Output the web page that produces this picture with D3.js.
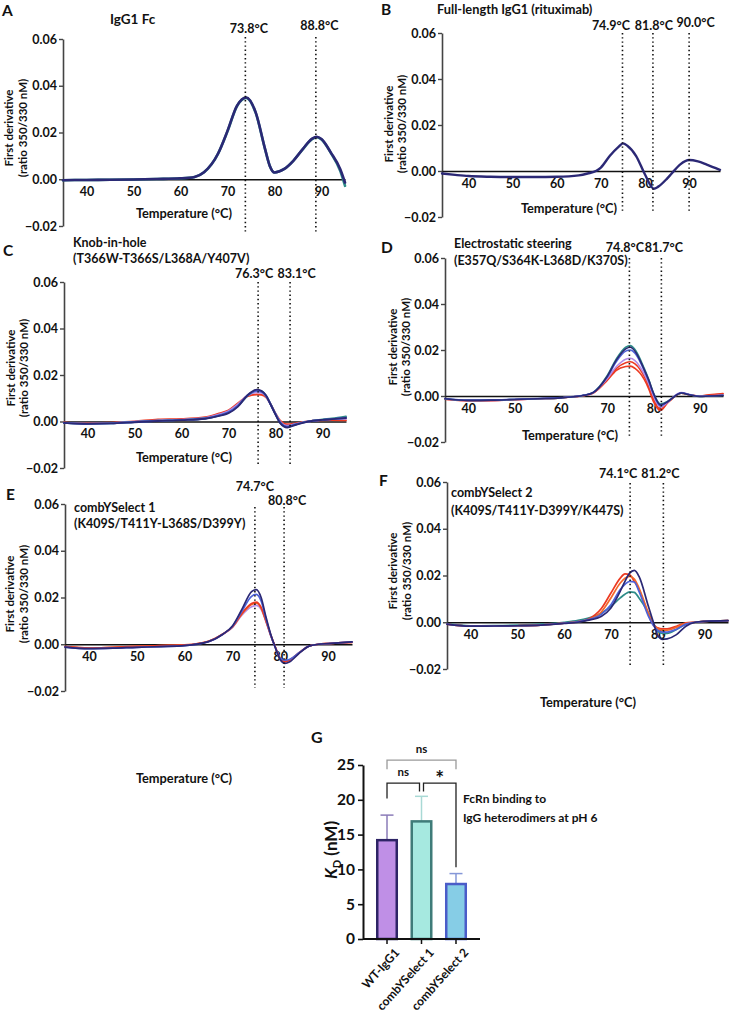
<!DOCTYPE html>
<html><head><meta charset="utf-8">
<script src="https://cdn.jsdelivr.net/npm/d3@7"></script>
<style>
body{margin:0;background:#fff}
text{font-family:Lato,'Open Sans',sans-serif;font-weight:700;fill:#111}
</style>
</head><body><svg id="c" width="730" height="1012"></svg>
<script>
// ---------------- DATA ----------------
const xTicks = [40,50,60,70,80,90];
const yTicks = [-0.02,0,0.02,0.04,0.06];

// Panel A: IgG1 Fc
const tempsA = [35,40,45,50,55,60,63,65,68,70,72,74,76,78,79,80,82,84,86,88,89,90,92,94,95];
const fcA_teal = [-0.0004,-0.0003,-0.0002,-0.0001,0.0001,0.0004,0.001,0.003,0.011,0.0205,0.0312,0.0348,0.0284,0.0128,0.0057,0.0029,0.0043,0.0079,0.0128,0.0172,0.018,0.017,0.0112,0.0035,-0.0028];
const fcA_navy = [-0.0004,-0.0003,-0.0002,-0.0001,0.0001,0.0004,0.001,0.003,0.011,0.0207,0.0314,0.035,0.0286,0.0129,0.0057,0.0029,0.0043,0.0079,0.0129,0.0174,0.0182,0.0172,0.0114,0.0043,-0.0014];
const peaksA = [73.8,88.8];

// Panel B: full-length IgG1 (rituximab)
const tempsB = [34,37,40,45,50,55,60,65,67,69,70,72,74,75,76,78,80,82,83,85,86,88,90,92,94,97];
const ritB_navy = [-0.0011,-0.0017,-0.0022,-0.0025,-0.0026,-0.0026,-0.0025,-0.0019,-0.0011,0.0001,0.0015,0.0065,0.0105,0.012,0.011,0.0065,-0.0015,-0.0077,-0.0068,-0.0033,-0.0012,0.0029,0.0048,0.0042,0.0028,0.0005];
const peaksB = [74.9,81.8,90.0];

// Panel C: knob-in-hole
const tempsC = [35,40,45,50,55,60,65,68,70,72,74,76,77,78,79,80,81,82.5,84,86,88,90,92,95];
const kihC_red  = [-0.0004,-0.0008,-0.0005,0.0,0.0009,0.0011,0.0018,0.0035,0.0048,0.0078,0.0108,0.0116,0.0115,0.0104,0.0073,0.0035,0.0004,-0.0012,-0.0009,-0.0002,0.0003,0.0005,0.0006,0.0005];
const kihC_lav  = [-0.0005,-0.0009,-0.0007,-0.0001,0.0005,0.0008,0.0015,0.003,0.0045,0.0074,0.0112,0.0126,0.0123,0.0108,0.0072,0.0033,0.0,-0.0018,-0.0012,-0.0003,0.0003,0.0007,0.001,0.0012];
const kihC_teal = [-0.0006,-0.001,-0.0008,-0.0002,0.0003,0.0007,0.0013,0.0025,0.0038,0.0066,0.011,0.0133,0.013,0.011,0.0073,0.0032,-0.0005,-0.0024,-0.0015,-0.0004,0.0004,0.0009,0.0013,0.0022];
const kihC_blue = [-0.0006,-0.001,-0.0008,-0.0002,0.0003,0.0007,0.0013,0.0026,0.004,0.0068,0.0112,0.0132,0.0128,0.011,0.0072,0.0032,-0.0004,-0.0022,-0.0014,-0.0004,0.0003,0.0007,0.001,0.0016];
const kihC_navy = [-0.0006,-0.001,-0.0008,-0.0003,0.0002,0.0006,0.0012,0.0024,0.0036,0.0064,0.0112,0.0137,0.0132,0.0112,0.0072,0.003,-0.0007,-0.0026,-0.0016,-0.0005,0.0003,0.0007,0.001,0.0015];
const peaksC = [76.3,83.1];

// Panel D: electrostatic steering
const tempsD = [35,40,45,50,55,60,65,67,70,72,74,75,76,78,79,80,81.5,83,84,86,88,90,92,95];
const esD_red2 = [-0.0014,-0.0021,-0.002,-0.0016,-0.0012,-0.0008,0.0002,0.0013,0.0068,0.0112,0.0128,0.013,0.012,0.0072,0.003,-0.0025,-0.0063,-0.003,-0.0012,0.0012,0.0004,0.0,0.0005,0.0011];
const esD_red1 = [-0.0014,-0.002,-0.0019,-0.0016,-0.0012,-0.0008,0.0002,0.0013,0.007,0.012,0.0145,0.0149,0.014,0.0085,0.004,-0.0015,-0.0058,-0.003,-0.0012,0.0012,0.0004,0.0,0.0004,0.0009];
const esD_lav  = [-0.0013,-0.002,-0.0019,-0.0016,-0.0012,-0.0008,0.0002,0.0014,0.0075,0.0128,0.016,0.0164,0.0154,0.0095,0.0052,0.0,-0.0048,-0.0028,-0.0008,0.0015,0.0005,-0.0001,0.0001,0.0004];
const esD_teal = [-0.0012,-0.0019,-0.0018,-0.0015,-0.0012,-0.0008,0.0003,0.0016,0.0088,0.0162,0.0212,0.0219,0.0202,0.012,0.007,0.0013,-0.0035,-0.0024,-0.001,0.0012,0.0004,-0.0002,0.0,0.0002];
const esD_blue = [-0.0011,-0.0018,-0.0017,-0.0014,-0.0011,-0.0007,0.0004,0.0016,0.0082,0.015,0.0195,0.02,0.0186,0.011,0.0063,0.0008,-0.0042,-0.0026,-0.001,0.0014,0.0005,-0.0001,0.0,0.0003];
const esD_navy = [-0.0012,-0.0019,-0.0018,-0.0015,-0.0012,-0.0008,0.0003,0.0015,0.0085,0.0157,0.0205,0.0212,0.0195,0.0115,0.0068,0.0012,-0.0038,-0.0025,-0.001,0.0013,0.0004,-0.0002,0.0,0.0002];
const peaksD = [74.8,81.7];

// Panel E: combYSelect 1
const tempsE = [35,40,45,50,55,60,65,68,70,72,74,75,76,77,78,79,80,81,82,84,86,88,90,95];
const cs1E_lav    = [-0.0011,-0.0017,-0.0015,-0.0011,-0.0008,-0.0004,0.0012,0.0043,0.0072,0.0125,0.016,0.0166,0.015,0.0098,0.0038,-0.0014,-0.0062,-0.0074,-0.0068,-0.0036,-0.0008,0.0,0.0003,0.0009];
const cs1E_orange = [-0.001,-0.0016,-0.0013,-0.0009,-0.0006,-0.0003,0.0013,0.0044,0.0073,0.013,0.017,0.0176,0.0155,0.01,0.0039,-0.0014,-0.006,-0.0072,-0.0066,-0.0035,-0.0008,0.0,0.0003,0.0008];
const cs1E_red    = [-0.001,-0.0016,-0.0013,-0.0009,-0.0006,-0.0003,0.0013,0.0044,0.0074,0.0133,0.0174,0.018,0.0158,0.0102,0.004,-0.0014,-0.0062,-0.0075,-0.0068,-0.0036,-0.0008,0.0,0.0003,0.0008];
const cs1E_blue   = [-0.0012,-0.0019,-0.0017,-0.0013,-0.001,-0.0006,0.0011,0.0043,0.0076,0.0142,0.0205,0.0213,0.0185,0.011,0.004,-0.0016,-0.006,-0.0068,-0.0064,-0.0035,-0.0008,0.0,0.0003,0.001];
const cs1E_navy   = [-0.0012,-0.0019,-0.0017,-0.0013,-0.001,-0.0006,0.0011,0.0043,0.0078,0.015,0.0225,0.0234,0.02,0.0118,0.0043,-0.0016,-0.0066,-0.0082,-0.0075,-0.0038,-0.0008,0.0,0.0003,0.001];
const peaksE = [74.7,80.8];

// Panel F: combYSelect 2
const tempsF = [35,40,45,50,55,60,63,65,68,70,72,73,74,75,76,78,79,80,81,82,84,86,88,90,95];
const cs2F_teal   = [-0.0006,-0.0015,-0.0014,-0.0012,-0.0008,0.0,0.0008,0.0017,0.004,0.0068,0.0104,0.012,0.013,0.0128,0.0104,0.004,0.0,-0.0038,-0.0048,-0.0048,-0.0031,-0.0008,0.0,0.0004,0.0007];
const cs2F_red    = [-0.0008,-0.0017,-0.0016,-0.0015,-0.0012,-0.0004,0.0003,0.0012,0.006,0.0125,0.0189,0.0207,0.0203,0.0175,0.014,0.0033,-0.001,-0.0024,-0.0028,-0.0028,-0.0017,-0.0003,0.0,0.0004,0.0007];
const cs2F_orange = [-0.0008,-0.0017,-0.0016,-0.0015,-0.0012,-0.0004,0.0002,0.001,0.0045,0.0104,0.0168,0.0188,0.0196,0.0185,0.0146,0.004,-0.0008,-0.0028,-0.0034,-0.0034,-0.0022,-0.0005,0.0,0.0004,0.0007];
const cs2F_blue   = [-0.0008,-0.0017,-0.0016,-0.0015,-0.0012,-0.0004,0.0002,0.001,0.0035,0.0075,0.014,0.0162,0.0175,0.0172,0.0132,0.0026,-0.0012,-0.0035,-0.0042,-0.0042,-0.003,-0.0008,0.0,0.0004,0.0007];
const cs2F_navy   = [-0.0008,-0.0017,-0.0016,-0.0015,-0.0012,-0.0005,0.0,0.0008,0.0026,0.0061,0.0133,0.0175,0.021,0.0222,0.0196,0.0068,0.0004,-0.0057,-0.0073,-0.0071,-0.0053,-0.0017,0.0,0.0004,0.0007];
const peaksF = [74.1,81.2];

// Panel G: FcRn binding KD
const gCategories = ["WT-IgG1","combYSelect 1","combYSelect 2"];
const gKD   = [14.2,16.9,7.9];
const gKDsd = [3.6,3.6,1.5];
const gTicks = [0,5,10,15,20,25];
// comparisons: [from, to, label, barLevel, leftLegEnd, rightLegEnd]
const gComparisons = [
  [0,2,"ns",25.7,24.4,24.4],
  [0,1,"ns",22.4,20.2,21.2],
  [1,2,"*",22.4,21.2,10.3]
];

// ---------------- STYLE ----------------
const NAVY="#2b2875", BLUE="#4d62d8", TEAL="#2e8c88", RED="#ec3a22", ORANGE="#f3682c", LAV="#b48ce6";

const svg = d3.select("#c");
svg.append("rect").attr("width",730).attr("height",1012).attr("fill","#fff");

const panels = [
 {temps:tempsA, series:[[fcA_teal,TEAL],[fcA_navy,NAVY]], peaks:peaksA, lw:2.6,
  x0:63,x1:345,dom:[35,95],yTop:39,yBot:226, letter:["A",2,16],
  titles:[["IgG1 Fc",110,24,13.5]], peakY:[33,30], peakDx:[3.5,3.5], dot:[37,232], xTitle:[184,218], yTitle:[13,27,128]},
 {temps:tempsB, series:[[ritB_navy,NAVY]], peaks:peaksB, lw:2.4,
  x0:442,x1:720,dom:[34,97],yTop:33,yBot:217, letter:["B",381,15],
  titles:[["Full-length IgG1 (rituximab)",437,14,12.8]], peakY:[30,30,27], peakDx:[-11.5,1,6.5], dot:[33,213], xTitle:[569,213], yTitle:[393,406,124]},
 {temps:tempsC, series:[[kihC_red,RED],[kihC_lav,LAV],[kihC_teal,TEAL],[kihC_blue,BLUE],[kihC_navy,NAVY]], peaks:peaksC, lw:1.9,
  x0:64,x1:346,dom:[35,95],yTop:282,yBot:468, letter:["C",3,256],
  titles:[["Knob-in-hole",73,247,12.5],["(T366W-T366S/L368A/Y407V)",73,263,12.5]], peakY:[278,278], peakDx:[-4,6.5], dot:[282,466], xTitle:[184,462], yTitle:[15,28,368]},
 {temps:tempsD, series:[[esD_red2,RED],[esD_red1,RED],[esD_lav,LAV],[esD_teal,TEAL],[esD_blue,BLUE],[esD_navy,NAVY]], peaks:peaksD, lw:1.6,
  x0:445,x1:723,dom:[35,95],yTop:258,yBot:442, letter:["D",381,253],
  titles:[["Electrostatic steering",454,248,12.5],["(E357Q/S364K-L368D/K370S)",454,265,12.5]], peakY:[252,252], peakDx:[-4.5,2.5], dot:[258,438], xTitle:[570,440], yTitle:[397,410,347]},
 {temps:tempsE, series:[[cs1E_lav,LAV],[cs1E_orange,ORANGE],[cs1E_red,RED],[cs1E_blue,BLUE],[cs1E_navy,NAVY]], peaks:peaksE, lw:1.7,
  x0:65,x1:352,dom:[35,95],yTop:504,yBot:691, letter:["E",6,500],
  titles:[["combYSelect 1",74,512,12.5],["(K409S/T411Y-L368S/D399Y)",74,528,12.5]], peakY:[491,505], peakDx:[0,3], dot:[507,688], xTitle:[184,783], yTitle:[14,28,594]},
 {temps:tempsF, series:[[cs2F_teal,TEAL],[cs2F_red,RED],[cs2F_orange,ORANGE],[cs2F_blue,BLUE],[cs2F_navy,NAVY]], peaks:peaksF, lw:1.7,
  x0:447,x1:728,dom:[35,95],yTop:482,yBot:669, letter:["F",379,486],
  titles:[["combYSelect 2",451,497,12.5],["(K409S/T411Y-D399Y/K447S)",451,515,12.5]], peakY:[478,478], peakDx:[-12,-3], dot:[483,667], xTitle:[588,707], yTitle:[397,411,571]}
];

const fmtY = d3.format(".2f");

panels.forEach(p => {
  const g = svg.append("g");
  const x = d3.scaleLinear().domain(p.dom).range([p.x0,p.x1]);
  const y = d3.scaleLinear().domain([-0.02,0.06]).range([p.yBot,p.yTop]);

  // y axis
  const ya = g.append("g").attr("transform",`translate(${p.x0},0)`)
    .call(d3.axisLeft(y).tickValues(yTicks).tickFormat(fmtY).tickSize(4).tickSizeOuter(0).tickPadding(2));
  ya.select(".domain").attr("stroke","#444").attr("stroke-width",1.6);
  ya.selectAll(".tick line").attr("stroke","#444").attr("stroke-width",1.4);
  ya.selectAll("text").attr("font-size",12.5).attr("font-family","Lato,sans-serif").attr("font-weight",700).attr("fill","#111");

  // zero line x axis
  const xa = g.append("g").attr("transform",`translate(0,${y(0)})`)
    .call(d3.axisBottom(x).tickValues(xTicks).tickFormat(d3.format("d")).tickSize(0).tickSizeOuter(0).tickPadding(8));
  xa.select(".domain").attr("stroke","#111").attr("stroke-width",1.5);
  xa.selectAll("text").attr("font-size",12.5).attr("font-family","Lato,sans-serif").attr("font-weight",700).attr("fill","#111");

  // curves
  const line = d3.line().x((d,i)=>x(p.temps[i])).y(d=>y(d)).curve(d3.curveMonotoneX);
  p.series.forEach(([vals,col]) => {
    g.append("path").attr("d",line(vals)).attr("fill","none").attr("stroke",col)
     .attr("stroke-width",p.lw).attr("stroke-linejoin","round").attr("stroke-linecap","round");
  });

  // dotted peak lines + labels
  p.peaks.forEach((t,i) => {
    g.append("line").attr("x1",x(t)).attr("x2",x(t)).attr("y1",p.dot[0]).attr("y2",p.dot[1])
      .attr("stroke","#111").attr("stroke-width",1.6).attr("stroke-dasharray","1.4,2.8");
    g.append("text").attr("x",x(t)+p.peakDx[i]).attr("y",p.peakY[i]).attr("text-anchor","middle")
      .attr("font-size",12.5).text(t.toFixed(1)+"°C");
  });

  // letter and titles
  g.append("text").attr("x",p.letter[1]).attr("y",p.letter[2]).attr("font-size",15.5).text(p.letter[0]);
  p.titles.forEach(([t,tx,ty,fs]) => g.append("text").attr("x",tx).attr("y",ty).attr("font-size",fs).text(t));

  // axis titles
  g.append("text").attr("x",p.xTitle[0]).attr("y",p.xTitle[1]).attr("text-anchor","middle").attr("font-size",12.8).text("Temperature (°C)");
  g.append("text").attr("transform",`translate(${p.yTitle[0]},${p.yTitle[2]}) rotate(-90)`).attr("text-anchor","middle").attr("font-size",11.5).text("First derivative");
  g.append("text").attr("transform",`translate(${p.yTitle[1]},${p.yTitle[2]}) rotate(-90)`).attr("text-anchor","middle").attr("font-size",11.5).text("(ratio 350/330 nM)");
});

// ---------------- PANEL G ----------------
(function(){
  const g = svg.append("g");
  const x = d3.scaleBand().domain(gCategories).range([363,480]).paddingInner(0.362).paddingOuter(0.377);
  const y = d3.scaleLinear().domain([0,25]).range([939,765]);
  const fills = ["#bf8fe6","#a6e9e0","#86cde6"];
  const strokes = ["#2e2466","#3f7c79","#4a5cc8"];
  const errCols = ["#8b7cb8","#a9d9d5","#8597d8"];

  const ya = g.append("g").attr("transform","translate(363,0)")
    .call(d3.axisLeft(y).tickValues(gTicks).tickSize(5).tickSizeOuter(0).tickPadding(3));
  ya.select(".domain").attr("stroke","#111").attr("stroke-width",2);
  ya.selectAll(".tick line").attr("stroke","#111").attr("stroke-width",1.6);
  ya.selectAll("text").attr("font-size",15.5).attr("font-family","Lato,sans-serif").attr("font-weight",700).attr("fill","#111");

  // error bars
  gCategories.forEach((c,i) => {
    const cx = x(c)+x.bandwidth()/2;
    g.append("line").attr("x1",cx).attr("x2",cx).attr("y1",y(gKD[i])).attr("y2",y(gKD[i]+gKDsd[i]))
      .attr("stroke",errCols[i]).attr("stroke-width",1.5);
    g.append("line").attr("x1",cx-6.5).attr("x2",cx+6.5).attr("y1",y(gKD[i]+gKDsd[i])).attr("y2",y(gKD[i]+gKDsd[i]))
      .attr("stroke",errCols[i]).attr("stroke-width",1.5);
  });
  // bars
  gCategories.forEach((c,i) => {
    g.append("rect").attr("x",x(c)+1.25).attr("y",y(gKD[i])).attr("width",x.bandwidth()-2.5).attr("height",y(0)-y(gKD[i]))
      .attr("fill",fills[i]).attr("stroke",strokes[i]).attr("stroke-width",2.5);
  });

  const xa = g.append("g").attr("transform","translate(0,939)")
    .call(d3.axisBottom(x).tickSize(5).tickSizeOuter(0).tickPadding(3));
  xa.select(".domain").attr("stroke","#111").attr("stroke-width",2).attr("d","M363,0H480");
  xa.selectAll(".tick line").attr("stroke","#111").attr("stroke-width",1.5);
  xa.selectAll("text").attr("font-size",12).attr("font-family","Lato,sans-serif").attr("font-weight",700).attr("fill","#111")
    .attr("text-anchor","end").attr("dy","0.35em").attr("transform","translate(4,6) rotate(-48)");

  // comparison brackets
  gComparisons.forEach(([a,b,lab,lev,le,re],k) => {
    const off = (k===0)?0:2;
    const xa_ = x(gCategories[a])+x.bandwidth()/2 + (a===1?off:0);
    const xb_ = x(gCategories[b])+x.bandwidth()/2 - (b===1?off:0);
    const col = k===0 ? "#9a9a9a" : "#222";
    g.append("path").attr("d",`M${xa_},${y(le)}V${y(lev)}H${xb_}V${y(re)}`)
      .attr("fill","none").attr("stroke",col).attr("stroke-width",1.3);
    const t = g.append("text").attr("x",(xa_+xb_)/2).attr("text-anchor","middle");
    if (lab === "*") t.attr("y",y(lev)+3).attr("font-size",21).attr("font-weight",700).text(lab);
    else t.attr("y",y(lev)-7).attr("font-size",11.5).attr("font-weight",400).attr("fill","#333").text(lab);
  });

  g.append("text").attr("x",311).attr("y",743).attr("font-size",16).text("G");
  const kd = g.append("text").attr("transform","translate(337,850) rotate(-90)").attr("text-anchor","middle").attr("font-size",17);
  kd.append("tspan").attr("font-style","italic").text("K");
  kd.append("tspan").attr("font-size",11).attr("dy",4).text("D");
  kd.append("tspan").attr("dy",-4).text(" (nM)");
  g.append("text").attr("x",463).attr("y",803).attr("font-size",12).text("FcRn binding to");
  g.append("text").attr("x",463).attr("y",822).attr("font-size",12).text("IgG heterodimers at pH 6");
})();
</script></body></html>
